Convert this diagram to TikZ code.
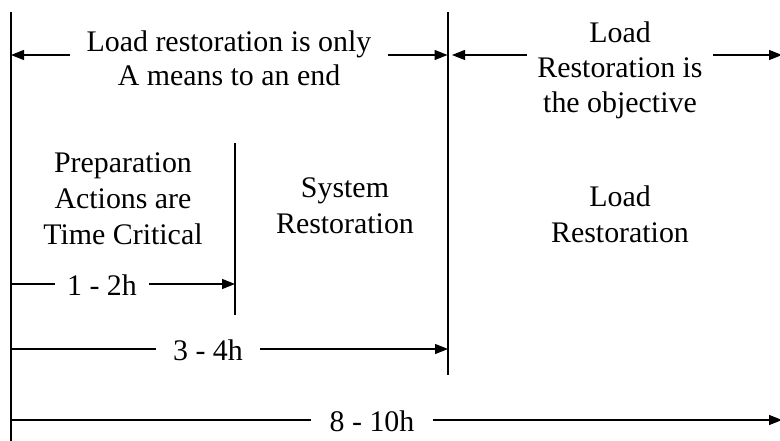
\documentclass[tikz,border=0pt]{standalone}
\usepackage{fontspec}
\setmainfont{Liberation Serif}
\usetikzlibrary{arrows.meta}
\begin{document}
\begin{tikzpicture}[x=1bp,y=-1bp,
  ln/.style={line width=1.1bp},
  arr/.style={ln,-{Triangle[length=13bp,width=10bp]}},
  lbl/.style={font=\fontsize{30}{34}\selectfont,align=center,inner xsep=16bp,inner ysep=0pt},
  txt/.style={font=\fontsize{30}{36}\selectfont,align=center,inner sep=0pt}]
\useasboundingbox (0,0) rectangle (780,441);
% vertical lines
\coordinate (L0) at (11,12);
\coordinate (Lb) at (11,441);
\coordinate (M0) at (448,12);
\coordinate (Mb) at (448,375);
\coordinate (I0) at (235,143);
\coordinate (Ib) at (235,315);
\draw[ln] (L0) -- (Lb);
\draw[ln] (M0) -- (Mb);
\draw[ln] (I0) -- (Ib);
% top labels
\coordinate (aL) at (11,55);
\coordinate (aM) at (447.5,55);
\coordinate (aMr) at (452,55);
\coordinate (aR) at (782,55);
\node[lbl] (topL) at (229,58) {Load restoration is only\\A means to an end};
\node[lbl,font=\fontsize{30}{35}\selectfont,inner xsep=10bp] (topR) at (620,70) {Load\\Restoration is\\the objective};
\draw[arr] (topL.west |- aL) -- (aL);
\draw[arr] (topL.east |- aL) -- (aM);
\draw[arr] (topR.west |- aL) -- (aMr);
\draw[arr] (topR.east |- aL) -- (aR);
% phase texts
\node[txt] (prep) at (123,199) {Preparation\\Actions are\\Time Critical};
\node[txt] (sys) at (345,206) {System\\Restoration};
\node[txt] (load) at (620,214) {Load\\Restoration};
% duration arrows
\coordinate (b1L) at (11,284);
\coordinate (b1R) at (235,284);
\coordinate (b2L) at (11,349);
\coordinate (b2R) at (448,349);
\coordinate (b3L) at (11,420);
\coordinate (b3R) at (782,420);
\node[lbl,inner xsep=12bp] (t12) at (102,285) {1 - 2h};
\node[lbl,inner xsep=17bp] (t34) at (208,350) {3 - 4h};
\node[lbl,inner xsep=18bp] (t810) at (372,421) {8 - 10h};
\draw[ln] (t12.west |- b1L) -- (b1L);
\draw[arr] (t12.east |- b1L) -- (b1R);
\draw[ln] (t34.west |- b2L) -- (b2L);
\draw[arr] (t34.east |- b2L) -- (b2R);
\draw[ln] (t810.west |- b3L) -- (b3L);
\draw[arr] (t810.east |- b3L) -- (b3R);
\end{tikzpicture}
\end{document}
